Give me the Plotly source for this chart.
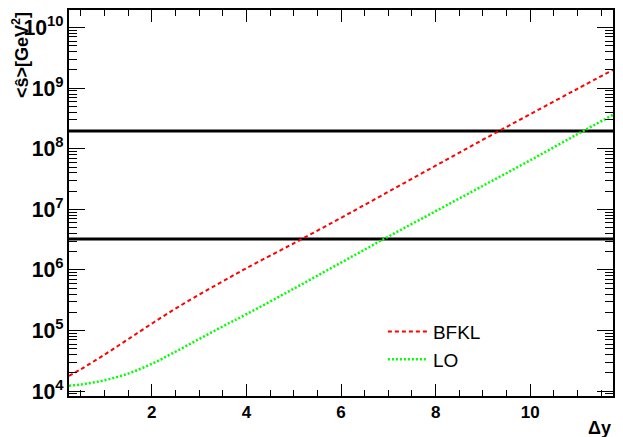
import plotly.graph_objects as go

dy = [0.25, 0.5, 1.0, 1.5, 2.0, 2.5, 3.0, 3.5, 4.0, 5.0, 6.0, 7.0, 8.0, 9.0, 10.0, 11.0, 11.75]
bfkl = [1.78e4, 2.30e4, 4.00e4, 7.20e4, 1.30e5, 2.30e5, 3.90e5, 6.50e5, 1.07e6, 2.75e6, 7.24e6,
        1.95e7, 5.25e7, 1.41e8, 3.72e8, 9.77e8, 2.0e9]
lo = [1.23e4, 1.29e4, 1.51e4, 1.95e4, 2.82e4, 4.47e4, 7.24e4, 1.17e5, 1.86e5, 4.90e5, 1.32e6,
      3.55e6, 9.33e6, 2.45e7, 6.46e7, 1.74e8, 3.63e8]
hlines = [1.96e8, 3.24e6]
x_range = [0.25, 11.75]

FONT = "Liberation Sans, Arial, sans-serif"

fig = go.Figure()
for h in hlines:
    fig.add_trace(go.Scatter(x=x_range, y=[h, h], mode="lines",
                             line=dict(color="black", width=3), showlegend=False,
                             hoverinfo="skip"))
fig.add_trace(go.Scatter(x=dy, y=bfkl, mode="lines", name="BFKL",
                         line=dict(color="#ff0000", width=2, dash="4px,3px", shape="spline")))
fig.add_trace(go.Scatter(x=dy, y=lo, mode="lines", name="LO",
                         line=dict(color="#00ff00", width=2.5, dash="2px,2px", shape="spline")))

# the page body adds an 8px margin, so the figure is sized to fit the window
fig.update_layout(
    width=615, height=429,
    margin=dict(l=61, r=10, t=2, b=41, autoexpand=False),
    paper_bgcolor="white", plot_bgcolor="white",
    font=dict(family=FONT, color="black"),
    showlegend=True,
    legend=dict(x=0.577, y=0.216, xanchor="left", yanchor="top",
                bgcolor="rgba(0,0,0,0)", font=dict(size=19, family=FONT),
                tracegroupgap=0, itemwidth=40),
)
fig.update_xaxes(
    range=x_range, showgrid=False, zeroline=False, automargin=False,
    showline=True, linecolor="black", linewidth=2, mirror="ticks",
    ticks="inside", ticklen=12, tickwidth=1, tickcolor="black",
    tick0=0, dtick=2,
    minor=dict(ticks="inside", ticklen=6, dtick=0.5, tick0=0, tickcolor="black", showgrid=False),
    tickfont=dict(size=17, family=FONT, weight="bold"),
)
fig.update_yaxes(
    type="log", range=[3.92, 10.29], showgrid=False, zeroline=False, automargin=False,
    showline=True, linecolor="black", linewidth=2, mirror="ticks",
    ticks="inside", ticklen=16, tickwidth=1, tickcolor="black",
    dtick=1, exponentformat="power",
    minor=dict(ticks="inside", ticklen=8, dtick="D1", tickcolor="black", showgrid=False),
    tickfont=dict(size=17, family=FONT, weight="bold"),
)

fig.add_annotation(text="<b><ŝ>[GeV<sup>2</sup>]</b>", xref="paper", yref="paper",
                   x=-0.09, y=1.0, xanchor="center", yanchor="top", textangle=-90,
                   showarrow=False, font=dict(size=18, family=FONT))
fig.add_annotation(text="<b>Δy</b>", xref="paper", yref="paper",
                   x=1.0, y=-0.083, xanchor="right", yanchor="middle",
                   showarrow=False, font=dict(size=18, family=FONT))

fig.write_html("out.html")
